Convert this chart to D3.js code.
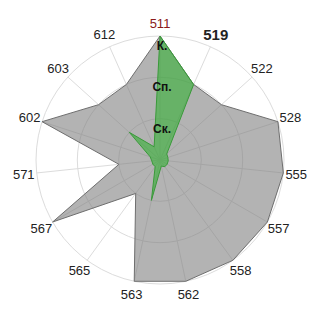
<!DOCTYPE html>
<html><head><meta charset="utf-8">
<script src="https://cdn.jsdelivr.net/npm/d3@7"></script>
<style>html,body{margin:0;padding:0;background:#fff;}svg{display:block;}</style>
</head><body>
<svg id="chart" width="320" height="320"></svg>
<script>
const categories = ["511","519","522","528","555","557","558","562","563","565","567","571","602","603","612"];
const grayValues = [3,2,2,3,3,3,3,3,3,1,3,1,3,2,2];
const greenValues = [3,2,0.22,0.2,0.2,0.2,0.2,0.15,1,0.2,0.2,0.2,0.25,1,0.35];
const levelLabels = ["Ск.","Сп.","К."];
const levels = [1,2,3];

const svg = d3.select("#chart");
const cx = 160, cy = 160, R = 124;
const g = svg.append("g").attr("transform", `translate(${cx},${cy})`);
const r = d3.scaleLinear().domain([0,3]).range([0,R]);
const angle = d3.scalePoint().domain(categories).range([0, 2*Math.PI*(categories.length)/categories.length]).padding(0);
const ang = c => categories.indexOf(c) * 2*Math.PI/categories.length;

// grid rings
g.selectAll("circle.ring").data(levels).join("circle")
  .attr("r", d => r(d)).attr("fill","none").attr("stroke","#dcdcdc").attr("stroke-width",1);
// spokes
g.selectAll("line.spoke").data(categories).join("line")
  .attr("x1",0).attr("y1",0)
  .attr("x2", d => R*Math.sin(ang(d))).attr("y2", d => -R*Math.cos(ang(d)))
  .attr("stroke","#dcdcdc").attr("stroke-width",1);

const radial = d3.lineRadial().curve(d3.curveLinearClosed)
  .angle((d,i) => ang(categories[i])).radius(d => r(d));

g.append("path").attr("d", radial(grayValues))
  .attr("fill","#808080").attr("fill-opacity",0.6)
  .attr("stroke","#6e6e6e").attr("stroke-width",1);
g.append("path").attr("d", radial(greenValues))
  .attr("fill","#33b033").attr("fill-opacity",0.6)
  .attr("stroke","#3a9a3a").attr("stroke-width",1);

// level labels
g.selectAll("text.lvl").data(levels).join("text")
  .attr("x", 2).attr("y", d => -r(d) + 10)
  .attr("text-anchor","middle").attr("dominant-baseline","central")
  .attr("font-family","Liberation Sans, Arial, sans-serif")
  .attr("font-size",12).attr("font-weight","bold").attr("fill","#111")
  .text((d,i) => levelLabels[i]);

// axis labels
const LR = R + 13;
g.selectAll("text.cat").data(categories).join("text")
  .attr("x", d => LR*Math.sin(ang(d)))
  .attr("y", d => -LR*Math.cos(ang(d)))
  .attr("text-anchor","middle").attr("dominant-baseline","central")
  .attr("font-family","Liberation Sans, Arial, sans-serif")
  .attr("font-size", d => d === "519" ? 15 : 13)
  .attr("font-weight", d => d === "519" ? "bold" : "normal")
  .attr("fill", d => d === "511" ? "#8b1a1a" : "#222")
  .text(d => d);
</script>
</body></html>
